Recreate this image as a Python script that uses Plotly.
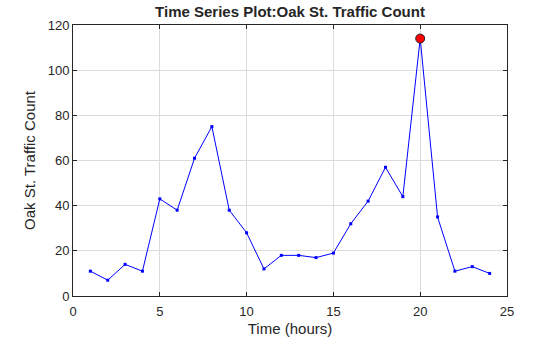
import plotly.graph_objects as go

hours = list(range(1, 25))
counts = [11, 7, 14, 11, 43, 38, 61, 75, 38, 28, 12, 18, 18, 17, 19, 32, 42, 57, 44, 114, 35, 11, 13, 10]
peak_hour = [20]
peak_count = [114]

fig = go.Figure()
fig.add_trace(go.Scatter(x=hours, y=counts, mode="lines+markers",
                         line=dict(color="#0000ff", width=1),
                         marker=dict(symbol="square", size=3, color="#0000ff"),
                         showlegend=False))
fig.add_trace(go.Scatter(x=peak_hour, y=peak_count, mode="markers",
                         marker=dict(symbol="circle", size=9, color="#ff0000",
                                     line=dict(color="#222222", width=1)),
                         showlegend=False))

axis_common = dict(showline=True, linecolor="#262626", linewidth=1, mirror="ticks",
                   ticks="inside", ticklen=4, tickcolor="#262626", automargin=False,
                   showgrid=True, gridcolor="#dcdcdc", gridwidth=1,
                   zeroline=False, tickfont=dict(family="Liberation Sans, Arial", size=13, color="#262626"))

fig.update_layout(
    width=560, height=337,
    margin=dict(l=73, r=53, t=25, b=41),
    paper_bgcolor="white", plot_bgcolor="white",
    title=dict(text="<b>Time Series Plot:Oak St. Traffic Count</b>", x=0.5, xref="paper",
               y=1, yref="container", yanchor="top", pad=dict(t=6),
               font=dict(family="Liberation Sans, Arial", size=15, color="#262626")),
    xaxis=dict(range=[0, 25], tickvals=[0, 5, 10, 15, 20, 25], ticklabelstandoff=3,
               title=dict(text="Time (hours)", standoff=5,
                          font=dict(family="Liberation Sans, Arial", size=15, color="#262626")),
               **axis_common),
    yaxis=dict(range=[0, 120], tickvals=[0, 20, 40, 60, 80, 100, 120],
               title=dict(text="Oak St. Traffic Count", standoff=8,
                          font=dict(family="Liberation Sans, Arial", size=15, color="#262626")),
               **axis_common),
)

fig.write_html("out.html")
